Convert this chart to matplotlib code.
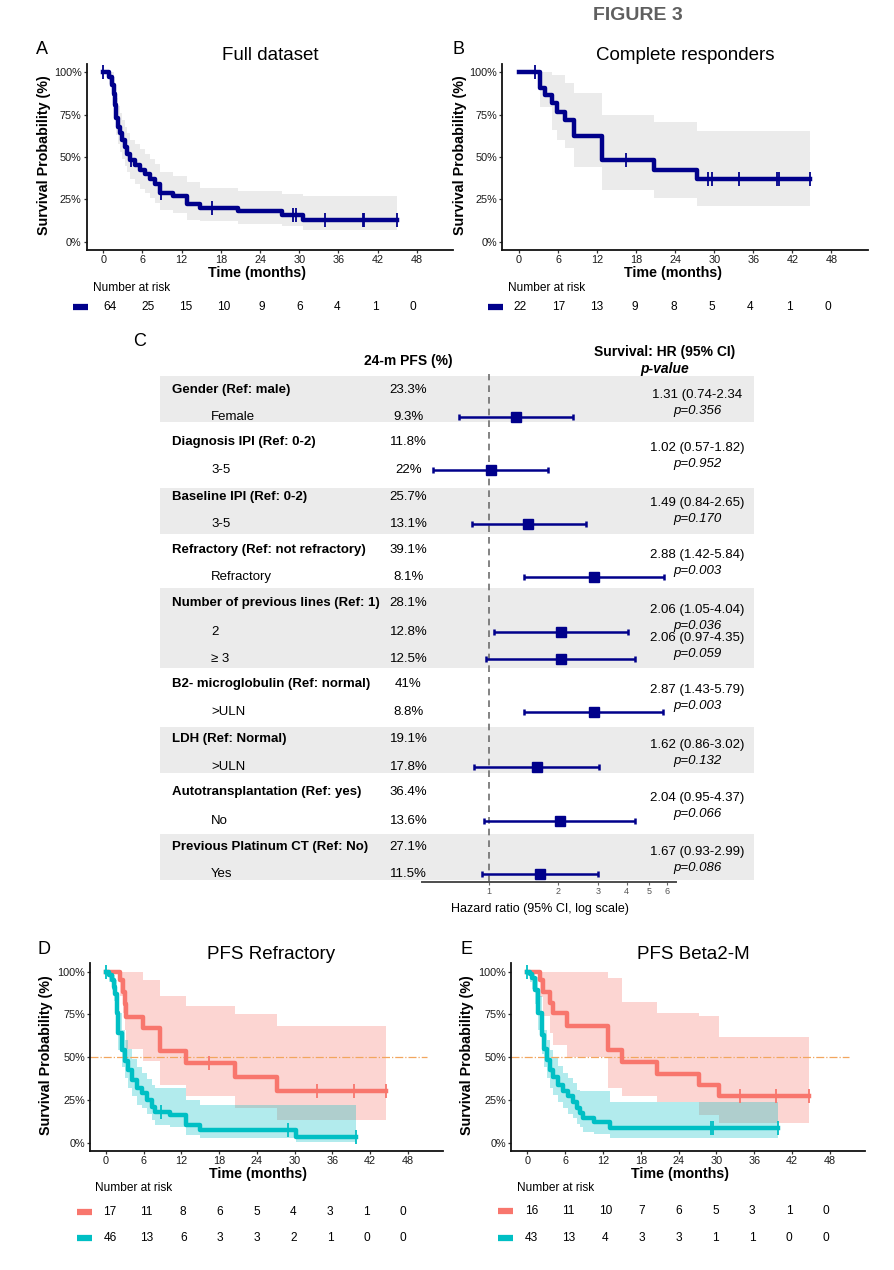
import numpy as np
import matplotlib
matplotlib.use('Agg')
import matplotlib.pyplot as plt
from matplotlib.patches import Rectangle
from matplotlib.ticker import NullLocator

plt.rcParams['font.family'] = ['Liberation Sans', 'DejaVu Sans']

W, H = 894, 1270
NAVY = '#00008B'
RED = '#F8766D'
TEAL = '#00BFC4'

# ------------------------------------------------------------------ data
month_ticks = [0, 6, 12, 18, 24, 30, 36, 42, 48]
surv_ticks = [0, 0.25, 0.5, 0.75, 1.0]
surv_tick_labels = ['0%', '25%', '50%', '75%', '100%']

# Panel A - full dataset
a_time = [0, 0.8, 1.3, 1.6, 1.8, 2.0, 2.3, 2.6, 2.9, 3.3, 3.7, 4.1, 4.9, 5.6, 6.4, 7.2, 7.9, 8.7, 10.7, 12.8, 14.8, 20.7, 27.3, 30.6]
a_surv = [1.0, 0.975, 0.925, 0.87, 0.81, 0.73, 0.68, 0.64, 0.60, 0.56, 0.52, 0.48, 0.455, 0.425, 0.40, 0.37, 0.34, 0.29, 0.27, 0.22, 0.20, 0.18, 0.16, 0.13]
a_upper = [1.0, 1.0, 1.0, 0.97, 0.92, 0.85, 0.80, 0.76, 0.72, 0.68, 0.64, 0.60, 0.58, 0.55, 0.52, 0.49, 0.46, 0.41, 0.39, 0.35, 0.32, 0.30, 0.28, 0.27]
a_lower = [1.0, 0.93, 0.86, 0.79, 0.72, 0.63, 0.58, 0.53, 0.49, 0.45, 0.41, 0.37, 0.34, 0.31, 0.29, 0.26, 0.23, 0.19, 0.17, 0.13, 0.12, 0.105, 0.09, 0.068]
a_end = 45.0
a_censor = [0.0, 4.3, 8.9, 16.6, 29.1, 29.5, 33.9, 39.7, 39.9, 45.0]
a_risk = [64, 25, 15, 10, 9, 6, 4, 1, 0]
a_median = 'Median: 4.1 m (95% CI: 2.2-6.1)'

# Panel B - complete responders
b_time = [0, 3.2, 4.0, 5.0, 5.8, 7.1, 8.45, 12.7, 20.7, 27.3]
b_surv = [1.0, 0.905, 0.866, 0.817, 0.767, 0.718, 0.624, 0.482, 0.423, 0.37]
b_upper = [1.0, 1.0, 1.0, 0.985, 0.985, 0.935, 0.876, 0.748, 0.708, 0.655]
b_lower = [1.0, 0.797, 0.797, 0.66, 0.60, 0.551, 0.443, 0.305, 0.26, 0.21]
b_end = 44.7
b_censor = [2.5, 16.5, 29.1, 29.6, 33.8, 39.7, 39.9, 44.7]
b_risk = [22, 17, 13, 9, 8, 5, 4, 1, 0]
b_median = 'Median: 13.1 m (95% CI: 1.7-24.5)'

# Panel D - PFS refractory
d_no_time = [0, 2.2, 2.7, 2.95, 3.2, 5.95, 8.6, 12.8, 20.5, 27.2]
d_no_surv = [1.0, 0.95, 0.88, 0.81, 0.737, 0.669, 0.538, 0.464, 0.386, 0.30]
d_no_upper = [1.0, 1.0, 1.0, 1.0, 1.0, 0.95, 0.857, 0.80, 0.75, 0.68]
d_no_lower = [1.0, 0.86, 0.76, 0.66, 0.55, 0.48, 0.337, 0.27, 0.20, 0.135]
d_no_end = 44.6
d_no_censor = [16.4, 33.5, 39.4, 44.6]
d_yes_time = [0, 0.4, 0.9, 1.2, 1.45, 1.7, 1.95, 2.5, 3.0, 3.55, 4.1, 4.9, 5.7, 6.5, 7.3, 7.8, 10.2, 12.8, 14.9, 30.3]
d_yes_surv = [1.0, 0.98, 0.95, 0.91, 0.87, 0.76, 0.64, 0.54, 0.48, 0.425, 0.366, 0.318, 0.29, 0.25, 0.21, 0.18, 0.16, 0.103, 0.074, 0.035]
d_yes_upper = [1.0, 1.0, 1.0, 0.98, 0.95, 0.86, 0.76, 0.66, 0.60, 0.55, 0.49, 0.44, 0.41, 0.37, 0.34, 0.32, 0.32, 0.25, 0.22, 0.22]
d_yes_lower = [1.0, 0.94, 0.89, 0.83, 0.78, 0.66, 0.54, 0.44, 0.38, 0.32, 0.27, 0.22, 0.20, 0.165, 0.13, 0.105, 0.09, 0.045, 0.025, 0.005]
d_yes_end = 39.8
d_yes_censor = [0.0, 8.7, 28.9, 39.8]
d_risk_no = [17, 11, 8, 6, 5, 4, 3, 1, 0]
d_risk_yes = [46, 13, 6, 3, 3, 2, 1, 0, 0]
d_legend = ['No: 12.9 m (0-27.3)', ' Yes: 3.4 m (1.7-5.2)']

# Panel E - PFS beta2-microglobulin
e_norm_time = [0, 2.0, 2.55, 3.6, 4.0, 6.25, 12.85, 15.0, 20.5, 27.3, 30.4]
e_norm_surv = [1.0, 0.95, 0.88, 0.815, 0.757, 0.684, 0.542, 0.474, 0.40, 0.337, 0.27]
e_norm_upper = [1.0, 1.0, 1.0, 1.0, 1.0, 1.0, 0.96, 0.82, 0.76, 0.74, 0.62]
e_norm_lower = [1.0, 0.85, 0.74, 0.64, 0.57, 0.50, 0.32, 0.27, 0.24, 0.16, 0.115]
e_norm_end = 44.7
e_norm_censor = [33.7, 39.5, 44.7]
e_uln_time = [0, 0.4, 0.7, 1.2, 1.75, 2.3, 2.7, 3.05, 3.6, 4.1, 4.9, 5.7, 6.5, 7.3, 7.85, 8.4, 8.9, 10.5, 13.1]
e_uln_surv = [1.0, 0.985, 0.96, 0.89, 0.76, 0.63, 0.55, 0.485, 0.425, 0.386, 0.337, 0.30, 0.27, 0.24, 0.20, 0.172, 0.142, 0.123, 0.084]
e_uln_upper = [1.0, 1.0, 1.0, 0.97, 0.86, 0.74, 0.66, 0.60, 0.54, 0.50, 0.45, 0.41, 0.38, 0.35, 0.31, 0.30, 0.30, 0.30, 0.24]
e_uln_lower = [1.0, 0.94, 0.90, 0.81, 0.66, 0.52, 0.44, 0.38, 0.32, 0.28, 0.24, 0.20, 0.17, 0.145, 0.11, 0.09, 0.065, 0.05, 0.03]
e_uln_end = 39.8
e_uln_censor = [0.0, 29.1, 29.5, 39.8]
e_risk_norm = [16, 11, 10, 7, 6, 5, 3, 1, 0]
e_risk_uln = [43, 13, 4, 3, 3, 1, 1, 0, 0]
e_legend = ['Normal: 15.1 m (5.3-24.9)', '>ULN: 3.4 m (1.9-4.9)']

# Panel C - forest plot
fp_groups = ['Gender (Ref: male)', 'Diagnosis IPI (Ref: 0-2)', 'Baseline IPI (Ref: 0-2)',
             'Refractory (Ref: not refractory)', 'Number of previous lines (Ref: 1)',
             'B2- microglobulin (Ref: normal)', 'LDH (Ref: Normal)',
             'Autotransplantation (Ref: yes)', 'Previous Platinum CT (Ref: No)']
fp_group_pfs = ['23.3%', '11.8%', '25.7%', '39.1%', '28.1%', '41%', '19.1%', '36.4%', '27.1%']
fp_levels = ['Female', '3-5', '3-5', 'Refractory', '2', '\u2265 3', '>ULN', '>ULN', 'No', 'Yes']
fp_level_pfs = ['9.3%', '22%', '13.1%', '8.1%', '12.8%', '12.5%', '8.8%', '17.8%', '13.6%', '11.5%']
fp_hr = [1.31, 1.02, 1.49, 2.88, 2.06, 2.06, 2.87, 1.62, 2.04, 1.67]
fp_lo = [0.74, 0.57, 0.84, 1.42, 1.05, 0.97, 1.43, 0.86, 0.95, 0.93]
fp_hi = [2.34, 1.82, 2.65, 5.84, 4.04, 4.35, 5.79, 3.02, 4.37, 2.99]
fp_hr_text = ['1.31 (0.74-2.34', '1.02 (0.57-1.82)', '1.49 (0.84-2.65)', '2.88 (1.42-5.84)',
              '2.06 (1.05-4.04)', '2.06 (0.97-4.35)', '2.87 (1.43-5.79)', '1.62 (0.86-3.02)',
              '2.04 (0.95-4.37)', '1.67 (0.93-2.99)']
fp_p = ['0.356', '0.952', '0.170', '0.003', '0.036', '0.059', '0.003', '0.132', '0.066', '0.086']
hr_ticks = [1, 2, 3, 4, 5, 6]

# ------------------------------------------------------------------ layout (pixels)
header_y = [390, 442.3, 497, 549.7, 603.3, 684, 739.3, 792.3, 847]
level_y = [416.7, 470.3, 524.3, 576.7, 632, 659.3, 712.3, 766.7, 820.7, 874]
level_prev_y = [390, 442.3, 497, 549.7, 603.3, 632, 684, 739.3, 792.3, 847]
band_spans = [(376, 422.3), (488, 534), (587.7, 667.7), (727, 773), (834.3, 880.3)]
XLIM = (-2.55, 53.55)

fig = plt.figure(figsize=(W / 100, H / 100), dpi=100)


def px_axes(left, top, width, height):
    return fig.add_axes([left / W, 1 - (top + height) / H, width / W, height / H])


bg = fig.add_axes([0, 0, 1, 1])
bg.set_xlim(0, W)
bg.set_ylim(H, 0)
bg.axis('off')


def style_km(ax, xlab_x, ylab_x):
    ax.set_xlim(*XLIM)
    ax.set_ylim(-0.05, 1.05)
    for sp in ['top', 'right']:
        ax.spines[sp].set_visible(False)
    for sp in ['left', 'bottom']:
        ax.spines[sp].set_linewidth(1.3)
        ax.spines[sp].set_color('#111111')
    ax.set_xticks(month_ticks)
    ax.set_xticklabels([str(m) for m in month_ticks])
    ax.set_yticks(surv_ticks)
    ax.set_yticklabels(surv_tick_labels)
    ax.tick_params(length=2.5, width=0.9, pad=1.2, labelsize=7.8, color='#333333', labelcolor='#1a1a1a')
    ax.set_xlabel('Time (months)', fontsize=10.3, fontweight='bold')
    ax.set_ylabel('Survival Probability (%)', fontsize=10.3, fontweight='bold')
    ax.xaxis.set_label_coords(xlab_x, -0.085)
    ax.yaxis.set_label_coords(ylab_x, 0.51)


def draw_km(ax, t, s, lo, hi, t_end, cens, color, band_color, band_alpha):
    t_ext = list(t) + [t_end]
    s_ext = list(s) + [s[-1]]
    lo_ext = list(lo) + [lo[-1]]
    hi_ext = list(hi) + [hi[-1]]
    ax.fill_between(t_ext, lo_ext, hi_ext, step='post', color=band_color, alpha=band_alpha, lw=0, zorder=1)
    ax.step(t_ext, s_ext, where='post', color=color, lw=3.2, zorder=3)
    idx = np.searchsorted(np.asarray(t), np.asarray(cens), side='right') - 1
    ax.plot(cens, np.asarray(s)[idx], ls='none', marker='|', ms=10, mew=1.3, color=color,
            zorder=4, clip_on=False)


def risk_table(left, width, label_x, label_y, rows, row_ys, colors, bar_x):
    ax = fig.add_axes([left / W, 0, width / W, 1])
    ax.set_xlim(*XLIM)
    ax.set_ylim(H, 0)
    ax.axis('off')
    bg.text(label_x, label_y, 'Number at risk', ha='left', va='center', fontsize=8.6)
    for counts, y, c in zip(rows, row_ys, colors):
        for t, n in zip(month_ticks, counts):
            ax.text(t, y, str(n), ha='center', va='center', fontsize=8.6)
        bg.plot(bar_x, [y, y], color=c, lw=4.5, solid_capstyle='butt')


# ------------------------------------------------------------------ title
bg.text(638, 16, 'FIGURE 3', ha='center', va='center', fontsize=14, fontweight='bold', color='#5f5f5f')

# ------------------------------------------------------------------ panel A
axA = px_axes(86.65, 63.9, 366.3, 186.3)
style_km(axA, 0.464, -0.098)
draw_km(axA, a_time, a_surv, a_lower, a_upper, a_end, a_censor, NAVY, '#EBEBEB', 1.0)
bg.text(319, 90.7, a_median, ha='center', va='center', fontsize=8.5)
bg.text(270, 55, 'Full dataset', ha='center', va='center', fontsize=13.5)
bg.text(42, 49, 'A', ha='center', va='center', fontsize=13)
risk_table(93.9, 354.1, 93.3, 288, [a_risk], [306.7], [NAVY], [73.3, 88.3])

# ------------------------------------------------------------------ panel B
axB = px_axes(502.4, 63.9, 365.2, 186.3)
style_km(axB, 0.466, -0.098)
draw_km(axB, b_time, b_surv, b_lower, b_upper, b_end, b_censor, NAVY, '#EBEBEB', 1.0)
bg.text(741, 90, b_median, ha='center', va='center', fontsize=8.5)
bg.text(685, 55, 'Complete responders', ha='center', va='center', fontsize=13.5)
bg.text(458, 49, 'B', ha='center', va='center', fontsize=13)
risk_table(503.7, 359.2, 508.3, 288, [b_risk], [306.7], [NAVY], [488.3, 503.3])

# ------------------------------------------------------------------ panel C (forest)
bg.text(140, 342, 'C', ha='center', va='center', fontsize=13)
for y0, y1 in band_spans:
    bg.add_patch(Rectangle((159.8, y0), 754 - 159.8, y1 - y0, facecolor='#EBEBEB', lw=0, zorder=0))
bg.text(408.5, 360.7, '24-m PFS (%)', ha='center', va='center', fontsize=10, fontweight='bold')
bg.text(665, 351.7, 'Survival: HR (95% CI)', ha='center', va='center', fontsize=10, fontweight='bold')
bg.text(665, 369.3, 'p-value', ha='center', va='center', fontsize=10, fontweight='bold', fontstyle='italic')
for name, pfs, y in zip(fp_groups, fp_group_pfs, header_y):
    bg.text(172, y, name, ha='left', va='center', fontsize=9.5, fontweight='bold')
    bg.text(408.5, y, pfs, ha='center', va='center', fontsize=9.5)
for name, pfs, y, yp, hrt, p in zip(fp_levels, fp_level_pfs, level_y, level_prev_y, fp_hr_text, fp_p):
    bg.text(211, y, name, ha='left', va='center', fontsize=9.5)
    bg.text(408.5, y, pfs, ha='center', va='center', fontsize=9.5)
    mid = (y + yp) / 2
    bg.text(697, mid - 8, hrt, ha='center', va='center', fontsize=9.5)
    bg.text(697, mid + 8, 'p=' + p, ha='center', va='center', fontsize=9.5, fontstyle='italic')

axF = px_axes(421.8, 374, 254.3, 507.7)
axF.patch.set_alpha(0)
axF.set_xscale('log')
axF.set_xlim(0.509, 6.59)
axF.set_ylim(881.7, 374)
for sp in ['top', 'right', 'left']:
    axF.spines[sp].set_visible(False)
axF.spines['bottom'].set_linewidth(1.4)
axF.spines['bottom'].set_color('#4d4d4d')
axF.set_yticks([])
axF.set_xticks(hr_ticks)
axF.set_xticklabels([str(v) for v in hr_ticks])
axF.xaxis.set_minor_locator(NullLocator())
axF.tick_params(axis='x', length=2.5, width=0.8, pad=1.5, labelsize=6.5, color='#666666', labelcolor='#555555')
axF.axvline(1, color='#6e6e6e', ls=(0, (4, 3)), lw=1.2, zorder=1)
hr = np.asarray(fp_hr)
axF.errorbar(hr, level_y, xerr=[hr - np.asarray(fp_lo), np.asarray(fp_hi) - hr], fmt='s',
             color=NAVY, ms=7.5, elinewidth=1.8, capsize=2.3, capthick=1.8, zorder=3)
bg.text(540.4, 909.3, 'Hazard ratio (95% CI, log scale)', ha='center', va='center', fontsize=9)

# ------------------------------------------------------------------ panel D
axD = px_axes(90, 963.1, 352.6, 188.1)
style_km(axD, 0.477, -0.104)
axD.axhline(0.5, xmin=0, xmax=0.955, color='#F2A65E', lw=0.9, ls='-.', zorder=2)
draw_km(axD, d_no_time, d_no_surv, d_no_lower, d_no_upper, d_no_end, d_no_censor, RED, RED, 0.3)
draw_km(axD, d_yes_time, d_yes_surv, d_yes_lower, d_yes_upper, d_yes_end, d_yes_censor, TEAL, TEAL, 0.3)
bg.text(270.8, 954.3, 'PFS Refractory', ha='center', va='center', fontsize=13.5)
bg.text(44, 949, 'D', ha='center', va='center', fontsize=13)
bg.text(256.7, 975, 'Median (95% CI):', ha='left', va='center', fontsize=8.5)
bg.plot([275, 283.3], [992, 992], color=RED, lw=2.2, solid_capstyle='butt')
bg.text(297.7, 992, d_legend[0], ha='left', va='center', fontsize=8.5)
bg.plot([275, 283.3], [1008.3, 1008.3], color=TEAL, lw=2.2, solid_capstyle='butt')
bg.text(297.7, 1008.3, d_legend[1], ha='left', va='center', fontsize=8.5)
bg.text(300.7, 1025.7, 'p = 0.002', ha='left', va='center', fontsize=8.5, fontstyle='italic')
risk_table(94.4, 342.8, 95, 1188, [d_risk_no, d_risk_yes], [1211.7, 1238], [RED, TEAL], [76.7, 91.7])

# ------------------------------------------------------------------ panel E
axE = px_axes(511.2, 963.1, 353.8, 188.1)
style_km(axE, 0.4785, -0.105)
axE.axhline(0.5, xmin=0, xmax=0.955, color='#F2A65E', lw=0.9, ls='-.', zorder=2)
draw_km(axE, e_norm_time, e_norm_surv, e_norm_lower, e_norm_upper, e_norm_end, e_norm_censor, RED, RED, 0.3)
draw_km(axE, e_uln_time, e_uln_surv, e_uln_lower, e_uln_upper, e_uln_end, e_uln_censor, TEAL, TEAL, 0.3)
bg.text(693.7, 954.3, 'PFS Beta2-M', ha='center', va='center', fontsize=13.5)
bg.text(467, 949, 'E', ha='center', va='center', fontsize=13)
bg.text(679.3, 975, 'Median (95% CI):', ha='left', va='center', fontsize=8.5)
bg.plot([696.7, 706], [992, 992], color=RED, lw=2.2, solid_capstyle='butt')
bg.text(722.7, 992, e_legend[0], ha='left', va='center', fontsize=8.5)
bg.plot([696.7, 706], [1008.3, 1008.3], color=TEAL, lw=2.2, solid_capstyle='butt')
bg.text(722.7, 1008.3, e_legend[1], ha='left', va='center', fontsize=8.5)
bg.text(723.3, 1025.7, 'p = 0.002', ha='left', va='center', fontsize=8.5, fontstyle='italic')
risk_table(516.1, 343.6, 516.7, 1188, [e_risk_norm, e_risk_uln], [1211, 1238], [RED, TEAL], [498, 513])

fig.savefig('out.png', dpi=100)
